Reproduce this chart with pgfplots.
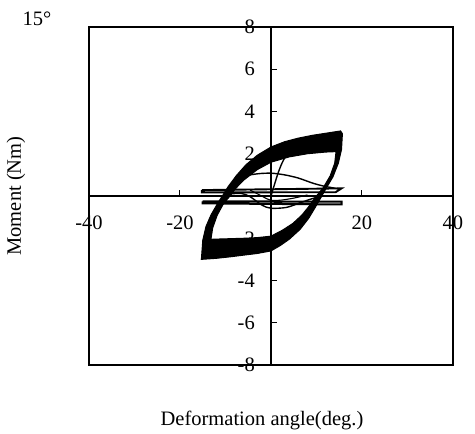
\documentclass[border=0pt]{standalone}
\usepackage{fontspec}
\setmainfont{Liberation Serif}
\usepackage{pgfplots}
\pgfplotsset{compat=1.18}
\newcommand{\lblfont}{\fontsize{20.5}{24}\selectfont}
\begin{document}
\begin{tikzpicture}[x=1pt,y=1pt]
\useasboundingbox (-89,-69) rectangle (386,365);
\begin{axis}[
  at={(0,0)}, anchor=south west,
  width=364pt, height=338pt, scale only axis,
  xmin=-40, xmax=40, ymin=-8, ymax=8,
  axis lines=middle,
  axis line style={line width=1.2pt, -},
  xtick={-40,-20,0,20,40}, xticklabels={-40,-20,0,20,40},
  ytick={-8,-6,-4,-2,0,2,4,6,8}, yticklabels={-8,-6,-4,-2,0,2,4,6,8},
  tick align=inside,
  major tick length=6pt,
  tick style={line width=1pt, black},
  tick label style={font=\lblfont},
  xticklabel style={anchor=north, inner sep=0pt, yshift=-20pt},
  yticklabel style={anchor=east, inner sep=0pt, xshift=-16pt},
  clip=false,
]
% stable cycles: band between the outermost and innermost loops
\addplot[draw=black, line width=1pt, fill=black, even odd rule] coordinates {
 (-15.3,-3.0) (-15.0,-2.1) (-14.3,-1.45) (-13.2,-0.9) (-11.6,-0.3) (-10.7,0.0)
 (-9.4,0.45) (-7.6,0.97) (-5.5,1.48) (-3,1.93) (0,2.32) (3,2.57) (6,2.74) (9,2.87)
 (12,2.97) (15.3,3.08) (15.7,2.95) (15.5,2.2) (14.8,1.55) (13.6,0.9) (11.9,0.28)
 (10.9,-0.1) (9.7,-0.55) (8.3,-1.05) (6.4,-1.58) (4,-2.05) (2,-2.35) (0,-2.6)
 (-3,-2.72) (-6,-2.8) (-9,-2.88) (-12,-2.95) (-15.3,-3.0)
 (-13.2,-2.05) (-12.8,-1.5) (-11.8,-0.9) (-10.4,-0.35) (-9.0,0.0) (-7.8,0.35)
 (-6,0.75) (-3,1.25) (0,1.6) (4,1.85) (8,2.0) (12,2.08) (14.3,2.1) (14.0,1.55)
 (13.0,0.95) (11.5,0.4) (9.6,-0.1) (8.3,-0.5) (6.8,-0.9) (4.8,-1.3) (2.5,-1.62)
 (0,-1.9) (-3,-1.97) (-6,-2.0) (-9,-2.02) (-12,-2.04) (-13.2,-2.05)
 (-15.3,-3.0)
};
% first loading from rest
\addplot[black, line width=1.4pt, smooth] coordinates {
 (0,0) (0.7,0.5) (1.5,1.05) (2.3,1.5) (3,1.8)
};
% early reduced-moment cycles
\addplot[black, line width=1.4pt, smooth] coordinates {
 (-8.8,0.55) (-6,0.92) (-3,1.05) (0,1.08) (3,1.0) (6,0.85) (9.3,0.6) (12,0.45) (15.2,0.33)
};
\addplot[black, line width=1.4pt, smooth] coordinates {
 (-9,0.1) (-6.5,0.12) (-4.6,-0.03) (-2,-0.43) (0,-0.58) (3.4,-0.54) (6.4,-0.32) (9.3,-0.11) (11.5,0.0)
};
\addplot[black, line width=1.1pt, smooth] coordinates {
 (-4.6,0.28) (-2.5,0.05) (-0.2,-0.19) (2,-0.2) (5,-0.1) (8,0.05)
};
% flat cycles after loss of resistance
\addplot[black, line width=1.9pt] coordinates {
 (-15.2,0.28) (15.5,0.36) (14.2,0.18) (-15.2,0.17) (-15.2,0.28)
};
\addplot[black, line width=2pt] coordinates {
 (-15.0,-0.25) (15.5,-0.27) (15.5,-0.4) (-15.0,-0.35) (-15.0,-0.25)
};
\end{axis}
\draw[line width=1.2pt] (0,0) rectangle (364,338);
\node[font=\lblfont] at (-52,346) {15°};
\node[font=\lblfont, rotate=90] at (-73,169) {Moment (Nm)};
\node[font=\lblfont, anchor=base] at (173,-60.5) {Deformation angle(deg.)};
\end{tikzpicture}
\end{document}
